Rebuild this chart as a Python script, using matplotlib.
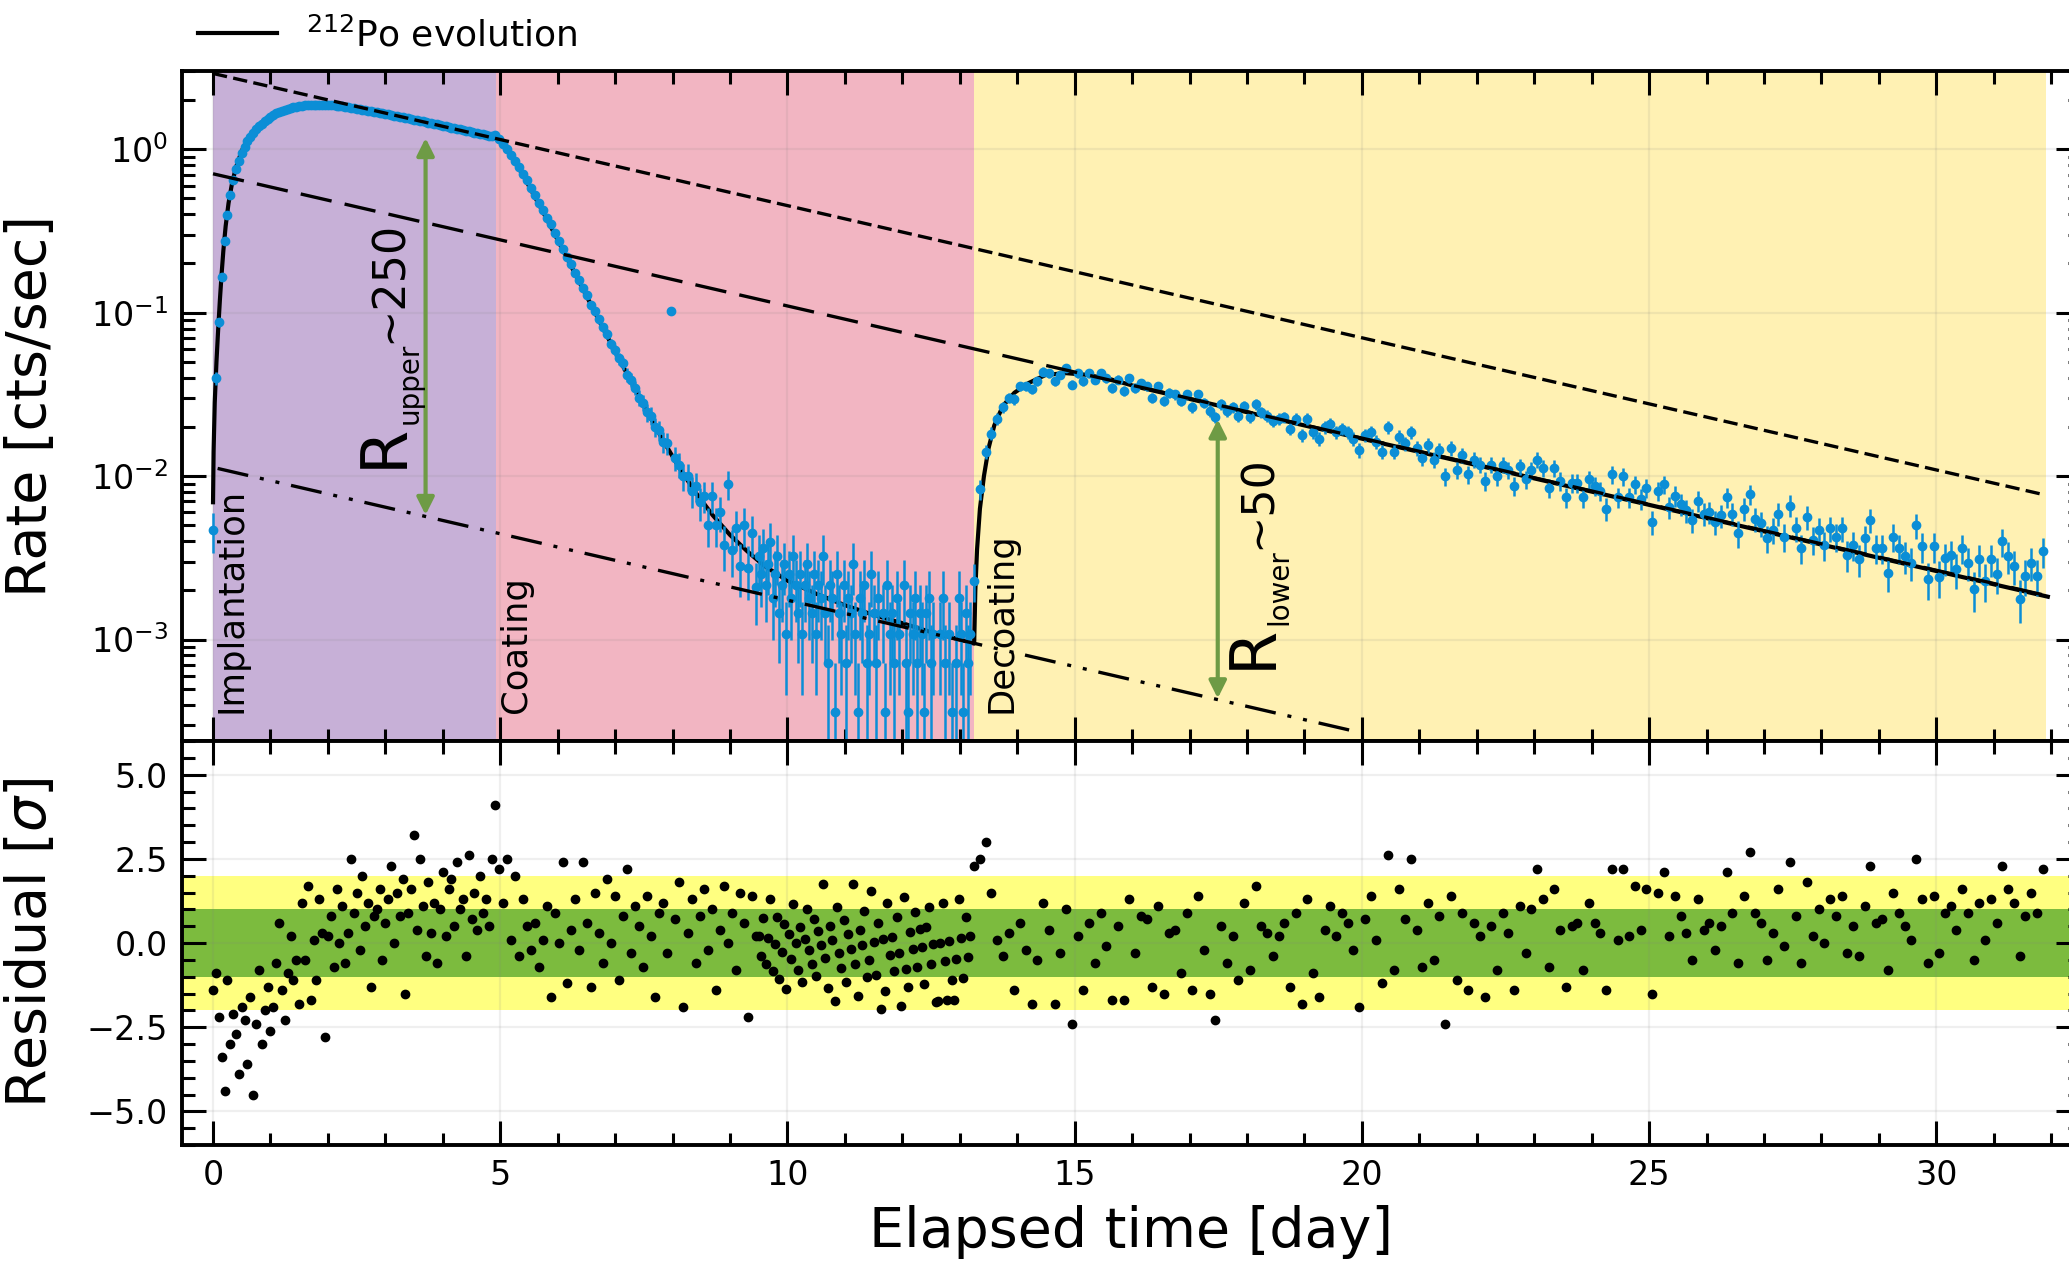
import numpy as np
import matplotlib
matplotlib.use("Agg")
import matplotlib.pyplot as plt
from matplotlib.ticker import MultipleLocator, LogLocator, NullFormatter

W, H = 2069, 1265  # output size in pixels (dpi 100)

# ---- phases of the measurement (days) ----
phase_edges = [0.0, 4.93, 13.25, 31.9]
phase_names = ["Implantation", "Coating", "Decoating"]
phase_colors = ["#C7B0D7", "#F2B5C2", "#FFF1B3"]

# ---- measured rate, log10(cts/s), binned ----
implant_t0, implant_dt = 0.0, 0.05
implant_log_rate = [
    -2.33, -1.40, -1.06, -0.78, -0.56, -0.40, -0.28, -0.19, -0.12, -0.07,
    -0.02, 0.015, 0.05, 0.075, 0.10, 0.122, 0.14, 0.157, 0.173, 0.186,
    0.198, 0.21, 0.221, 0.229, 0.236, 0.243, 0.249, 0.253, 0.257, 0.26,
    0.263, 0.266, 0.268, 0.27, 0.271, 0.27, 0.272, 0.273, 0.272, 0.271,
    0.27, 0.27, 0.268, 0.266, 0.265, 0.262, 0.26, 0.257, 0.255, 0.252,
    0.249, 0.246, 0.243, 0.24, 0.236, 0.233, 0.23, 0.227, 0.223, 0.22,
    0.216, 0.213, 0.209, 0.206, 0.203, 0.199, 0.196, 0.192, 0.189, 0.185,
    0.182, 0.178, 0.174, 0.171, 0.167, 0.163, 0.16, 0.156, 0.152, 0.148,
    0.145, 0.141, 0.137, 0.133, 0.13, 0.126, 0.122, 0.118, 0.114, 0.11,
    0.106, 0.102, 0.098, 0.095, 0.091, 0.087, 0.083, 0.079, 0.09]

coat_t0, coat_dt = 4.97, 0.07
coat_log_rate = [
    0.06, 0.035, 0.0, -0.035, -0.07, -0.11, -0.15, -0.19, -0.235, -0.28,
    -0.33, -0.37, -0.42, -0.46, -0.515, -0.56, -0.61, -0.66, -0.70, -0.76,
    -0.80, -0.85, -0.89, -0.95, -0.99, -1.04, -1.09, -1.13, -1.19, -1.23,
    -1.28, -1.31, -1.38, -1.41, -1.46, -1.52, -1.55, -1.61, -1.63, -1.70,
    -1.72, -1.79, -1.80, -0.99, -1.89, -1.93, -2.0, -2.0, -2.09, -2.06,
    -2.16, -2.12, -2.3, -2.12, -2.3, -2.22, -2.42, -2.05, -2.45, -2.32,
    -2.55, -2.3, -2.56, -2.35, -2.68]

# low-rate tail of the coating phase: raw counts per bin
tail_t0, tail_dt = 9.50, 0.04
tail_counts = [
    9, 7, 10, 6, 8, 11, 5, 7, 9, 4,
    6, 8, 3, 7, 5, 9, 6, 4, 7, 3,
    6, 8, 5, 4, 7, 3, 6, 5, 9, 4,
    2, 6, 5, 1, 7, 4, 3, 6, 2, 5,
    4, 8, 3, 1, 5, 4, 6, 2, 3, 7,
    4, 2, 5, 0, 4, 1, 6, 3, 4, 2,
    5, 3, 0, 6, 2, 1, 4, 3, 5, 2,
    4, 3, 1, 4, 5, 2, 3, 0, 0, 3,
    5, 2, 0, 3, 1, 0, 2, 5, 3, 1,
    4, 2, 3]

decoat_t0, decoat_dt = 13.25, 0.1
decoat_log_rate = [
    -2.64, -2.08, -1.85, -1.74, -1.65, -1.58, -1.52, -1.53, -1.45, -1.45,
    -1.47, -1.42, -1.36, -1.37, -1.42, -1.38, -1.34, -1.44, -1.37, -1.42,
    -1.37, -1.41, -1.37, -1.40, -1.46, -1.41, -1.48, -1.40, -1.46, -1.43,
    -1.45, -1.52, -1.45, -1.54, -1.49, -1.50, -1.54, -1.50, -1.58, -1.50,
    -1.55, -1.60, -1.64, -1.56, -1.60, -1.58, -1.63, -1.57, -1.64, -1.56,
    -1.61, -1.63, -1.66, -1.65, -1.64, -1.71, -1.65, -1.75, -1.65, -1.73,
    -1.77, -1.70, -1.68, -1.73, -1.71, -1.73, -1.77, -1.84, -1.75, -1.73,
    -1.79, -1.85, -1.70, -1.85, -1.76, -1.80, -1.73, -1.83, -1.89, -1.81,
    -1.90, -1.84, -2.00, -1.83, -1.96, -1.87, -1.99, -1.90, -1.93, -2.03,
    -1.93, -2.00, -1.93, -1.96, -2.06, -1.94, -2.02, -1.96, -1.90, -1.95,
    -2.07, -1.95, -2.03, -2.13, -2.04, -2.04, -2.13, -2.02, -2.06, -2.09,
    -2.20, -1.99, -2.13, -2.00, -2.13, -2.05, -2.14, -2.07, -2.28, -2.09,
    -2.05, -2.19, -2.12, -2.17, -2.21, -2.27, -2.15, -2.23, -2.22, -2.28,
    -2.24, -2.13, -2.23, -2.35, -2.20, -2.11, -2.26, -2.29, -2.38, -2.33,
    -2.23, -2.37, -2.18, -2.32, -2.44, -2.25, -2.39, -2.33, -2.42, -2.32,
    -2.37, -2.32, -2.48, -2.42, -2.51, -2.38, -2.27, -2.44, -2.44, -2.59,
    -2.37, -2.44, -2.49, -2.53, -2.30, -2.43, -2.63, -2.43, -2.62, -2.50,
    -2.48, -2.57, -2.44, -2.53, -2.69, -2.51, -2.64, -2.51, -2.60, -2.40,
    -2.49, -2.55, -2.75, -2.61, -2.53, -2.61, -2.46]

# live time per bin in seconds (sets the Poisson error bars)
live_s_fast = 2770.0
live_s_decoat = 6480.0

# ---- residuals [sigma], same bins ----
implant_resid = [
    -1.4, -0.9, -2.2, -3.4, -4.4, -1.1, -3.0, -2.1, -2.7, -3.9,
    -1.9, -2.3, -3.6, -1.6, -4.5, -2.4, -0.8, -3.0, -2.0, -1.3,
    -2.6, -1.9, -0.6, 0.6, -1.4, -2.3, -0.9, 0.2, -1.1, -0.5,
    -1.8, 1.2, -0.5, 1.7, -1.7, 0.1, -1.1, 1.3, 0.3, -2.8,
    0.2, 0.8, -0.7, 1.6, 0.0, 1.1, -0.6, 0.3, 2.5, 0.9,
    1.5, -0.2, 2.0, 0.5, 1.2, -1.3, 0.8, 1.0, 1.6, -0.5,
    0.6, 1.3, 2.3, 0.0, 1.5, 0.8, 1.9, -1.5, 0.9, 1.6,
    3.2, 0.4, 2.5, 1.1, -0.4, 1.8, 0.3, 1.2, -0.6, 1.0,
    2.1, 0.2, 1.6, 1.9, 0.5, 2.4, 1.0, 1.3, -0.4, 2.6,
    0.7, 1.5, 0.4, 2.0, 0.9, 1.3, 0.5, 2.5, 4.1]

coat_resid = [
    2.2, 1.2, 2.5, 0.1, 2.0, -0.4, 1.3, 0.5, -0.2, 0.6,
    -0.7, 0.1, 1.1, -1.6, 0.9, 0.0, 2.4, -1.2, 0.4, 1.3,
    -0.2, 2.4, 0.6, -1.3, 1.5, 0.3, -0.6, 1.9, 0.0, 1.4,
    -1.1, 0.8, 2.2, -0.3, 1.1, 0.5, -0.7, 1.4, 0.2, -1.6,
    0.9, 1.2, -0.3, np.nan, 0.7, 1.8, -1.9, 0.3, 1.3, -0.6,
    0.8, 1.6, -0.2, 1.0, -1.4, 0.4, 1.7, 0.0, 0.9, -0.8,
    1.5, 0.6, -2.2, 1.4, 0.2]

tail_resid = [
    0.22, -0.40, 0.73, -0.63, 0.15, 1.32, -0.84, -0.04, 0.77, -1.08,
    -0.27, 0.56, -1.36, 0.27, -0.49, 1.17, 0.0, -0.79, 0.48, -1.15,
    0.13, 1.01, -0.22, -0.62, 0.71, -0.99, 0.35, -0.06, 1.74, -0.45,
    -1.33, 0.5, 0.08, -1.73, 1.06, -0.3, -0.74, 0.69, -1.17, 0.27,
    -0.18, 1.76, -0.62, -1.57, 0.4, -0.07, 0.94, -1.02, -0.5, 1.53,
    0.04, -0.95, 0.59, -1.95, 0.11, -1.42, 1.2, -0.35, 0.19, -0.84,
    0.76, -0.29, -1.87, 1.36, -0.78, -1.3, 0.34, -0.19, 0.93, -0.7,
    0.43, -0.11, -1.22, 0.49, 1.08, -0.61, -0.03, -1.74, -1.73, 0.01,
    1.19, -0.54, -1.7, 0.07, -1.1, -1.68, -0.48, 1.32, 0.14, -1.05,
    0.78, -0.42, 0.2]

decoat_resid = [
    2.3, 2.5, 3.0, 1.5, 0.1, -0.4, 0.3, -1.4, 0.6, -0.2,
    -1.8, -0.5, 1.2, 0.4, -1.8, -0.3, 1.0, -2.4, 0.2, -1.4,
    0.6, -0.6, 0.9, -0.1, -1.7, 0.5, -1.7, 1.3, -0.3, 0.8,
    0.7, -1.3, 1.1, -1.5, 0.3, 0.4, -0.9, 0.9, -1.4, 1.4,
    -0.2, -1.5, -2.3, 0.5, -0.6, 0.2, -1.1, 1.2, -0.8, 1.7,
    0.5, 0.3, -0.4, 0.2, 0.6, -1.3, 0.9, -1.8, 1.3, -0.9,
    -1.6, 0.4, 1.1, 0.2, 0.9, 0.6, -0.2, -1.9, 0.7, 1.4,
    0.1, -1.2, 2.6, -0.8, 1.6, 0.7, 2.5, 0.4, -0.7, 1.2,
    -0.5, 0.8, -2.4, 1.4, -1.1, 0.9, -1.4, 0.6, 0.2, -1.6,
    0.5, -0.8, 0.9, 0.3, -1.4, 1.1, -0.3, 1.0, 2.2, 1.3,
    -0.7, 1.6, 0.4, -1.3, 0.5, 0.6, -0.8, 1.2, 0.6, 0.3,
    -1.4, 2.2, 0.1, 2.2, 0.2, 1.7, 0.4, 1.6, -1.5, 1.5,
    2.1, 0.2, 1.4, 0.8, 0.3, -0.5, 1.3, 0.4, 0.6, -0.2,
    0.5, 2.1, 0.9, -0.6, 1.4, 2.7, 0.9, 0.6, -0.5, 0.3,
    1.6, -0.1, 2.4, 0.8, -0.6, 1.8, 0.2, 1.0, 0.0, 1.3,
    0.8, 1.4, -0.3, 0.5, -0.4, 1.1, 2.3, 0.6, 0.7, -0.8,
    1.5, 0.9, 0.5, 0.1, 2.5, 1.3, -0.6, 1.4, -0.3, 0.9,
    1.1, 0.4, 1.6, 0.9, -0.5, 1.2, 0.1, 1.3, 0.6, 2.3,
    1.6, 1.2, -0.4, 0.8, 1.5, 0.9, 2.2]

# ---- 212Po evolution fit (knots) ----
fit_t = [0.0, 0.01, 0.03, 0.06, 0.09, 0.12, 0.15, 0.18, 0.22, 0.27, 0.33, 0.4,
         0.5, 0.6, 0.75, 0.9, 1.1, 1.3, 1.55, 1.85, 2.2, 2.6, 3.0, 3.5, 4.0,
         4.5, 4.95,
         5.05, 5.2, 5.4, 5.6, 5.8, 6.0, 6.3, 6.6, 6.9, 7.2, 7.5, 7.8, 8.1, 8.4,
         8.7, 9.0, 9.3, 9.6, 10.0, 10.5, 11.0, 11.5, 12.0, 12.5, 13.0, 13.25,
         13.27, 13.3, 13.35, 13.42, 13.5, 13.6, 13.75, 13.95, 14.2, 14.5, 14.85,
         15.2, 15.6, 16.1, 17.2, 18.0, 19.0, 20.0, 21.0, 22.0, 23.0, 24.0, 25.0,
         26.0, 27.0, 28.0, 29.0, 30.0, 31.0, 31.94]
fit_log = [-2.16, -1.85, -1.55, -1.3, -1.1, -0.92, -0.76, -0.62, -0.47, -0.33,
           -0.21, -0.11, -0.01, 0.06, 0.13, 0.18, 0.225, 0.25, 0.265, 0.27, 0.26,
           0.237, 0.21, 0.175, 0.138, 0.1, 0.065,
           0.03, -0.05, -0.16, -0.29, -0.42, -0.555, -0.76, -0.965, -1.17, -1.37,
           -1.57, -1.76, -1.94, -2.1, -2.24, -2.36, -2.46, -2.55, -2.64, -2.72,
           -2.79, -2.85, -2.9, -2.955, -3.0, -3.025,
           -2.7, -2.45, -2.2, -2.0, -1.83, -1.69, -1.57, -1.49, -1.43, -1.38,
           -1.37, -1.38, -1.405, -1.455, -1.544, -1.609, -1.69, -1.771, -1.852,
           -1.933, -2.014, -2.095, -2.176, -2.257, -2.338, -2.419, -2.5, -2.581,
           -2.662, -2.738]

# reference exponentials (end points, log10 rate)
upper_line = ([0.0, 31.9], [0.464, -2.116])
middle_line = ([0.0, 31.9], [-0.15, -2.73])
lower_line = ([0.08, 19.93], [-1.953, -3.566])

# ratio arrows: (day, log10 top, log10 bottom)
arrow_upper = (3.70, 0.069, -2.238)
arrow_lower = (17.49, -1.653, -3.36)

BLUE = "#0b8ed6"
GREEN = "#6E9B45"


def bins(t0, dt, values):
    return t0 + dt * np.arange(len(values))


fig = plt.figure(figsize=(W / 100, H / 100), dpi=100)
ax = fig.add_axes([182 / W, 1 - 741 / H, 1898 / W, 670 / H])
axr = fig.add_axes([182 / W, 1 - 1145 / H, 1898 / W, 404 / H], sharex=ax)

# ---- upper panel ----
ax.set_yscale("log")
for lo, hi, c in zip(phase_edges[:-1], phase_edges[1:], phase_colors):
    ax.axvspan(lo, hi, color=c, lw=0, zorder=0)

fit_line, = ax.plot(fit_t, 10 ** np.array(fit_log), color="black", lw=3,
                    zorder=2, label=r"$^{212}$Po evolution")


def plot_rate(t, rate, err):
    ax.errorbar(t, rate, yerr=[err, err], fmt="o", ms=6, color=BLUE, mec=BLUE,
                ecolor=BLUE, elinewidth=1.8, capsize=0, zorder=3)


for t0, dt, logs, live in [(implant_t0, implant_dt, implant_log_rate, live_s_fast),
                           (coat_t0, coat_dt, coat_log_rate, live_s_fast),
                           (decoat_t0, decoat_dt, decoat_log_rate, live_s_decoat)]:
    t = bins(t0, dt, logs)
    rate = 10 ** np.array(logs)
    plot_rate(t, rate, np.sqrt(rate / live))

counts = np.array(tail_counts, dtype=float)
t_tail = bins(tail_t0, tail_dt, tail_counts)
nz = counts > 0
plot_rate(t_tail[nz], counts[nz] / live_s_fast, np.sqrt(counts[nz]) / live_s_fast)

ax.plot(upper_line[0], 10 ** np.array(upper_line[1]), color="black", lw=2.4,
        ls=(0, (4.3, 1.9)), zorder=4)
ax.plot(middle_line[0], 10 ** np.array(middle_line[1]), color="black", lw=2.4,
        ls=(0, (9.5, 4)), zorder=4)
ax.plot(lower_line[0], 10 ** np.array(lower_line[1]), color="black", lw=2.4,
        ls=(0, (9.4, 3.6, 1.2, 3.6, 1.2, 3.6)), zorder=4)

for tx, top, bot in (arrow_upper, arrow_lower):
    ax.annotate("", xy=(tx, 10 ** top), xytext=(tx, 10 ** bot),
                arrowprops=dict(arrowstyle="<|-|>", color=GREEN, lw=3,
                                mutation_scale=26, shrinkA=0, shrinkB=0),
                zorder=5)

ax.set_ylim(10 ** -3.621, 10 ** 0.479)
ax.set_xlim(-0.54, 32.5)
ax.yaxis.set_major_locator(LogLocator(base=10, numticks=10))
ax.yaxis.set_minor_locator(LogLocator(base=10, subs=np.arange(2, 10), numticks=100))
ax.yaxis.set_minor_formatter(NullFormatter())
ax.set_ylabel("Rate [cts/sec]", fontsize=40)
ax.yaxis.set_label_coords((58 - 182) / 1898, 0.5)

ax.legend(handles=[fit_line], loc="center left", bbox_to_anchor=(198 / W, 1 - 35 / H),
          bbox_transform=fig.transFigure, frameon=False, fontsize=26,
          handlelength=2.2, handletextpad=0.8, borderpad=0, borderaxespad=0)

# ---- residual panel ----
axr.axhspan(-2, 2, color="#FFFF80", lw=0, zorder=0)
axr.axhspan(-1, 1, color="#7CBB3E", lw=0, zorder=0)
for t0, dt, res in [(implant_t0, implant_dt, implant_resid),
                    (coat_t0, coat_dt, coat_resid),
                    (tail_t0, tail_dt, tail_resid),
                    (decoat_t0, decoat_dt, decoat_resid)]:
    axr.plot(bins(t0, dt, res), res, "o", color="black", ms=6, zorder=3)

axr.set_ylim(-6, 6)
axr.yaxis.set_major_locator(MultipleLocator(2.5))
axr.yaxis.set_minor_locator(MultipleLocator(0.5))
axr.xaxis.set_major_locator(MultipleLocator(5))
axr.xaxis.set_minor_locator(MultipleLocator(1))
axr.set_ylabel(r"Residual [$\sigma$]", fontsize=40)
axr.yaxis.set_label_coords((58 - 182) / 1898, 0.5)
axr.set_xlabel("Elapsed time [day]", fontsize=40)
axr.xaxis.set_label_coords(0.5, (1145 - 1205) / 404)

for a in (ax, axr):
    a.set_axisbelow(True)
    a.grid(True, which="major", color="0.5", alpha=0.12, lw=1.6)
    a.tick_params(which="both", direction="in", top=True, right=True,
                  width=2.2, labelsize=24, pad=10)
    a.tick_params(which="major", length=17)
    a.tick_params(which="minor", length=9)
    for s in a.spines.values():
        s.set_linewidth(2.8)
ax.tick_params(labelbottom=False)


# ---- phase names and ratio labels (vertical text) ----
def vtext(px, py, s, size):
    fig.text(px / W, 1 - py / H, s, rotation=90, rotation_mode="anchor",
             ha="left", va="baseline", fontsize=size)


for name, px in zip(phase_names, [241, 526, 1011]):
    vtext(px, 713, name, 25.5)

vtext(402, 468, "R", 46)
vtext(418, 424, "upper", 20)
vtext(402, 343, "~250", 32)
vtext(1271, 669, "R", 46)
vtext(1287, 625, "lower", 20)
vtext(1271, 549, "~50", 32)

fig.savefig("out.png", dpi=100)
